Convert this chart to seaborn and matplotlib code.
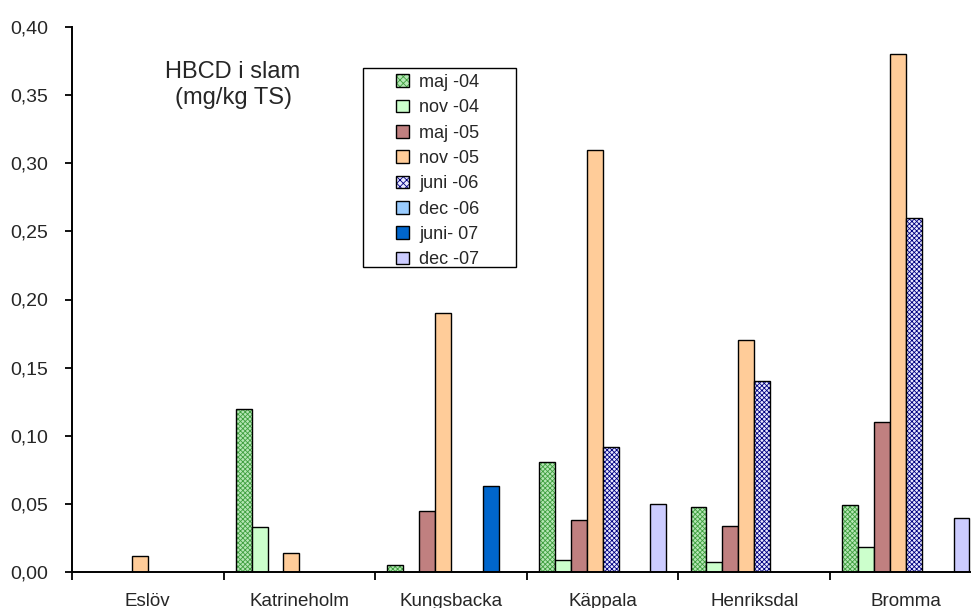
import matplotlib
matplotlib.use("Agg")
import matplotlib.pyplot as plt
import matplotlib.colors as mcolors
from matplotlib.patches import Patch, Rectangle
from matplotlib.ticker import FuncFormatter, FixedLocator
import numpy as np
import pandas as pd
import seaborn as sns

sns.set_theme(style="white")
plt.rcParams['font.family'] = ['Liberation Sans', 'DejaVu Sans']
plt.rcParams['hatch.linewidth'] = 0.6

# Data
plants = ['Eslöv', 'Katrineholm', 'Kungsbacka', 'Käppala', 'Henriksdal', 'Bromma']
periods = ['maj -04', 'nov -04', 'maj -05', 'nov -05', 'juni -06', 'dec -06', 'juni- 07', 'dec -07']
nan = np.nan
maj04 = [nan, 0.120, 0.005, 0.081, 0.048, 0.049]
nov04 = [nan, 0.033, nan, 0.009, 0.007, 0.018]
maj05 = [nan, nan, 0.045, 0.038, 0.034, 0.110]
nov05 = [0.012, 0.014, 0.190, 0.310, 0.170, 0.380]
juni06 = [nan, nan, nan, 0.092, 0.140, 0.260]
dec06 = [nan, nan, nan, nan, nan, nan]
juni07 = [nan, nan, 0.063, nan, nan, nan]
dec07 = [nan, nan, nan, 0.050, nan, 0.040]
series = [maj04, nov04, maj05, nov05, juni06, dec06, juni07, dec07]

colors = ['#b5e6b5', '#ccffcc', '#c08080', '#ffcc99', '#e8e8ff', '#99ccff', '#0066cc', '#ccccff']
hatch_colors = {'#b5e6b5': '#3f9f3f', '#e8e8ff': '#000080'}

rows = []
for per, vals in zip(periods, series):
    for pl, v in zip(plants, vals):
        if not np.isnan(v):
            rows.append({'plant': pl, 'period': per, 'value': v})
df = pd.DataFrame(rows)

W, H = 971, 608
fig = plt.figure(figsize=(W / 100, H / 100), dpi=100)
ax = fig.add_axes([72 / W, 36 / H, 899 / W, 545 / H])

sns.barplot(data=df, x='plant', y='value', hue='period', order=plants,
            hue_order=periods, palette=dict(zip(periods, colors)),
            width=0.84, gap=0, dodge=True, legend=False, errorbar=None,
            edgecolor='black', linewidth=1.0, saturation=1, ax=ax)

# checker patterns for two series
for p in ax.patches:
    fc = mcolors.to_hex(p.get_facecolor())
    if fc in hatch_colors:
        p.set_hatch('xxxxxxx')
        p._hatch_color = mcolors.to_rgba(hatch_colors[fc])

ax.set_ylim(0, 0.40)
ax.set_xlim(-0.5, -0.5 + 899 / 151.6)
ax.yaxis.set_major_formatter(FuncFormatter(lambda v, _: f"{v:.2f}".replace('.', ',')))
ax.set_yticks(np.arange(0, 0.401, 0.05))
ax.xaxis.set_minor_locator(FixedLocator(np.arange(-0.5, 6, 1)))
ax.tick_params(axis='y', which='major', direction='out', length=5, width=1.3,
               color='black', labelsize=14, pad=12, left=True)
ax.tick_params(axis='x', which='major', length=0, labelsize=13.5, pad=15)
ax.tick_params(axis='x', which='minor', direction='out', length=6, width=1.3,
               color='black', bottom=True)
ax.set_xlabel('')
ax.set_ylabel('')
for s in ['top', 'right']:
    ax.spines[s].set_visible(False)
for s in ['left', 'bottom']:
    ax.spines[s].set_color('black')
    ax.spines[s].set_linewidth(1.4)
ax.grid(False)

ax.text((233 - 72) / 899, (572 - 85) / 545, 'HBCD i slam\n(mg/kg TS)',
        transform=ax.transAxes, ha='center', va='center', fontsize=17,
        linespacing=1.2)

# legend with a wide box as in the original
fig.patches.append(Rectangle((363 / W, 1 - 267 / H), 153 / W, 199 / H,
                             transform=fig.transFigure, fill=False,
                             edgecolor='black', linewidth=1.0))
handles = []
for per, c in zip(periods, colors):
    h = Patch(facecolor=c, edgecolor='black', linewidth=1.0, label=per)
    if c in hatch_colors:
        h.set_hatch('xxxxx')
        h._hatch_color = mcolors.to_rgba(hatch_colors[c])
    handles.append(h)
leg = fig.legend(handles=handles, loc='upper left',
                 bbox_to_anchor=(396 / W, 1 - 74 / H),
                 frameon=False, fontsize=13,
                 handlelength=0.7, handleheight=0.7, handletextpad=0.6,
                 labelspacing=0.46, borderpad=0, borderaxespad=0)

plt.savefig('out.png', dpi=100)
